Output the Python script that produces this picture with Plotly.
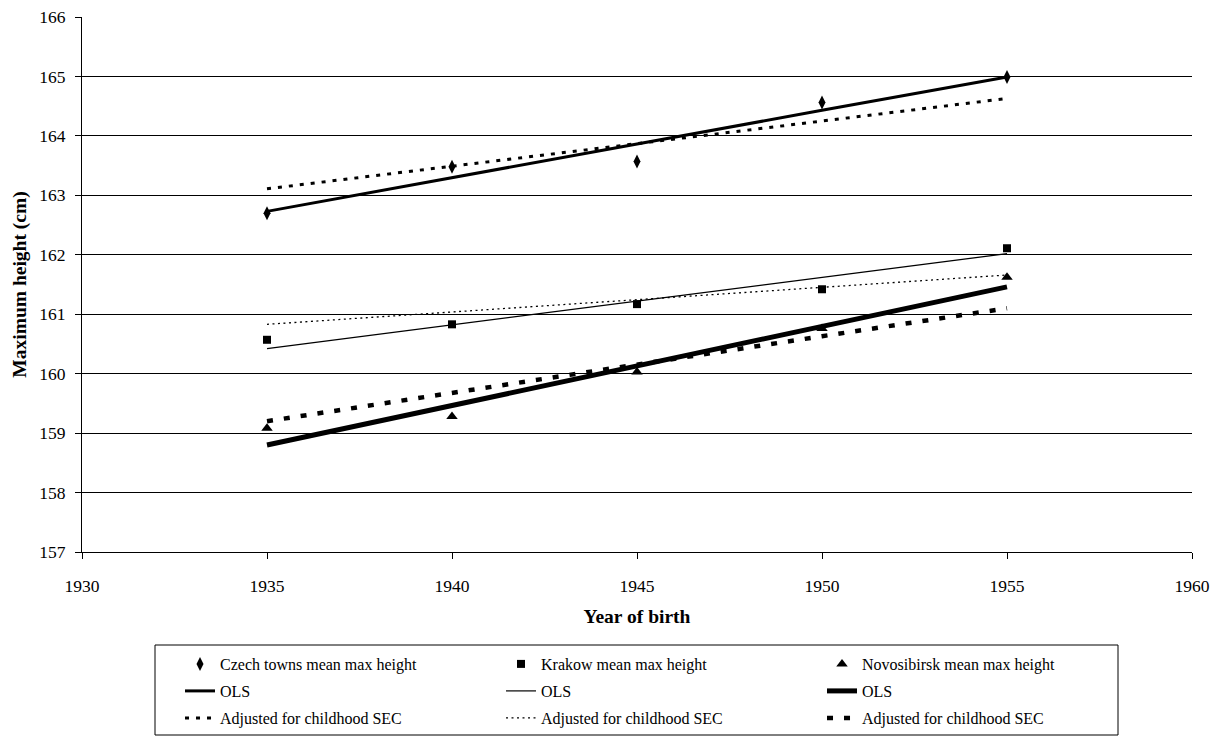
import plotly.graph_objects as go

years = [1935, 1940, 1945, 1950, 1955]

czech_mean = [162.70, 163.48, 163.57, 164.56, 164.99]
krakow_mean = [160.57, 160.83, 161.17, 161.42, 162.11]
novo_mean = [159.08, 159.28, 160.03, 160.76, 161.62]

czech_ols = [162.73, 163.30, 163.86, 164.43, 164.99]
krakow_ols = [160.42, 160.82, 161.22, 161.62, 162.02]
novo_ols = [158.80, 159.47, 160.13, 160.80, 161.46]

czech_adj = [163.11, 163.49, 163.87, 164.25, 164.63]
krakow_adj = [160.83, 161.04, 161.25, 161.45, 161.66]
novo_adj = [159.20, 159.68, 160.15, 160.63, 161.10]

x_ticks = [1930, 1935, 1940, 1945, 1950, 1955, 1960]
y_ticks = [157, 158, 159, 160, 161, 162, 163, 164, 165, 166]

FONT = "Liberation Serif"

fig = go.Figure()

# Row 1: markers
fig.add_trace(go.Scatter(x=years, y=czech_mean, mode="markers", name="Czech towns mean max height",
                         legend="legend", marker=dict(symbol="diamond-tall", size=10, color="black")))
fig.add_trace(go.Scatter(x=years, y=krakow_mean, mode="markers", name="Krakow mean max height",
                         legend="legend", marker=dict(symbol="square", size=8, color="black")))
fig.add_trace(go.Scatter(x=years, y=novo_mean, mode="markers", name="Novosibirsk mean max height",
                         legend="legend", marker=dict(symbol="triangle-up", size=10, color="black")))
# Row 2: OLS
fig.add_trace(go.Scatter(x=years, y=czech_ols, mode="lines", name="OLS", legend="legend2",
                         line=dict(color="black", width=3)))
fig.add_trace(go.Scatter(x=years, y=krakow_ols, mode="lines", name="OLS", legend="legend2",
                         line=dict(color="black", width=1.2)))
fig.add_trace(go.Scatter(x=years, y=novo_ols, mode="lines", name="OLS", legend="legend2",
                         line=dict(color="black", width=5)))
# Row 3: adjusted
fig.add_trace(go.Scatter(x=years, y=czech_adj, mode="lines", name="Adjusted for childhood SEC",
                         legend="legend3", line=dict(color="black", width=3, dash="4px,7px")))
fig.add_trace(go.Scatter(x=years, y=krakow_adj, mode="lines", name="Adjusted for childhood SEC",
                         legend="legend3", line=dict(color="black", width=1.3, dash="2px,3.5px")))
fig.add_trace(go.Scatter(x=years, y=novo_adj, mode="lines", name="Adjusted for childhood SEC",
                         legend="legend3", line=dict(color="black", width=4.5, dash="6px,11px")))

def leg(ypx):
    return dict(
        orientation="h", x=0.0883, xanchor="left",
        yref="container", y=1 - ypx / 736, yanchor="middle",
        entrywidth=276, entrywidthmode="pixels",
        borderwidth=0, bgcolor="rgba(0,0,0,0)",
        font=dict(family=FONT, size=16, color="black"),
        traceorder="normal",
    )

fig.update_layout(
    width=1229, height=736,
    margin=dict(l=82, r=37, t=17, b=184, autoexpand=False),
    paper_bgcolor="white", plot_bgcolor="white",
    font=dict(family=FONT, size=17.5, color="black"),
    showlegend=True,
    legend=leg(664),
    legend2=leg(691),
    legend3=leg(718),
    shapes=[dict(type="rect", xref="paper", yref="paper",
                 x0=(155 - 82) / 1110, x1=(1118 - 82) / 1110,
                 y0=(552 - 735) / 535, y1=(552 - 645) / 535,
                 line=dict(color="black", width=1), fillcolor="rgba(0,0,0,0)", layer="below")],
    xaxis=dict(
        range=[1930, 1960], tickvals=x_ticks, ticktext=[str(v) for v in x_ticks],
        showgrid=False, zeroline=False, showline=True, linecolor="black", linewidth=1,
        ticks="outside", ticklen=6, tickcolor="black", ticklabelstandoff=12,
        tickfont=dict(family=FONT, size=17.5), automargin=False,
        title=dict(text="<b>Year of birth</b>", font=dict(family=FONT, size=19.5), standoff=14),
    ),
    yaxis=dict(
        range=[157, 166], tickvals=y_ticks, ticktext=[str(v) for v in y_ticks],
        showgrid=True, gridcolor="black", gridwidth=1, zeroline=False,
        showline=True, linecolor="black", linewidth=1,
        ticks="outside", ticklen=6, tickcolor="black", ticklabelstandoff=6,
        tickfont=dict(family=FONT, size=17.5), automargin=False,
        title=dict(text="<b>Maximum height (cm)</b>", font=dict(family=FONT, size=19.5), standoff=7),
    ),
)

fig.write_html("out.html")
